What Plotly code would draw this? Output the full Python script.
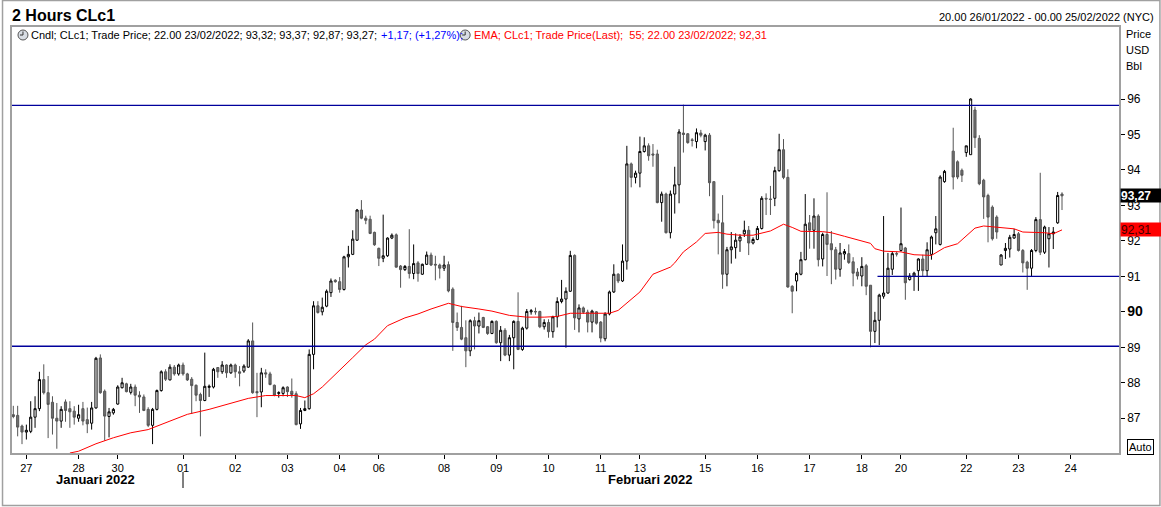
import plotly.graph_objects as go

# 2 hour bars of CLc1, one value per bar (bar 215 = Presidents' Day halt, no bar)
missing_bars = [215]
bar_no = [i for i in range(242) if i not in missing_bars]

opens = [
    87.10, 87.08, 86.78, 86.61, 86.63, 87.03, 87.27, 88.09, 87.72, 87.45,
    87.00, 86.92, 87.46, 87.27, 87.20, 87.00, 87.27, 86.96, 86.86, 87.29,
    88.70, 87.76, 87.05, 87.15, 87.40, 87.86, 87.97, 87.73, 87.88, 87.65,
    87.60, 87.25, 86.80, 87.25, 87.78, 88.31, 88.08, 88.44, 88.25, 88.50,
    88.25, 88.10, 87.93, 87.67, 87.50, 87.87, 87.88, 88.43, 88.31, 88.50,
    88.28, 88.50, 88.31, 88.33, 88.44, 89.18, 87.75, 87.74, 88.28, 88.25,
    87.93, 87.70, 87.70, 87.88, 87.76, 87.69, 86.84, 87.22, 87.27, 88.80,
    90.17, 90.00, 90.16, 90.54, 90.89, 90.85, 90.63, 91.55, 91.62, 92.02,
    92.87, 92.64, 92.61, 92.24, 91.79, 91.51, 91.58, 92.08, 92.17, 91.29,
    91.19, 91.28, 91.08, 91.38, 91.06, 91.34, 91.60, 91.34, 91.32, 91.23,
    91.33, 90.64, 89.70, 89.56, 89.27, 88.90, 89.75, 89.60, 89.84, 89.58,
    89.39, 89.73, 89.13, 89.48, 88.78, 89.27, 89.73, 88.94, 89.54, 90.00,
    90.01, 90.01, 89.58, 89.70, 89.44, 89.86, 90.29, 90.36, 90.58, 91.59,
    89.80, 90.11, 89.99, 89.71, 90.00, 89.71, 89.24, 89.94, 90.56, 91.06,
    90.87, 91.43, 94.17, 93.79, 93.91, 94.52, 94.68, 94.45, 94.45, 93.08,
    93.32, 92.23, 93.32, 93.58, 95.04, 95.02, 94.85, 94.80, 95.04, 94.80,
    94.98, 93.67, 92.58, 92.51, 91.06, 91.75, 91.81, 92.00, 92.20, 92.30,
    91.94, 92.04, 92.35, 93.20, 93.18, 93.20, 93.98, 94.57, 93.79, 90.72,
    90.87, 91.06, 91.47, 92.51, 92.30, 92.70, 91.49, 92.18, 91.92, 91.75,
    91.20, 91.63, 91.64, 91.41, 91.12, 91.01, 91.30, 90.75, 89.45, 89.76,
    90.44, 90.53, 91.20, 91.64, 91.73, 91.80, 90.91, 91.01, 91.16, 91.49,
    91.16, 91.62, 92.23, 91.90, 93.67,
    94.53, 94.23, 93.99, 94.49, 94.43, 95.69, 94.89, 93.71, 93.28, 92.95,
    92.67, 91.32, 91.73, 91.77, 92.08, 92.20, 91.73, 91.40, 91.23, 91.73,
    92.60, 91.68, 92.06, 92.20, 92.51, 93.32,
]
highs = [
    87.35, 87.35, 86.82, 86.82, 87.48, 87.62, 88.31, 88.52, 88.19, 87.62,
    87.43, 87.34, 87.53, 87.48, 87.34, 87.38, 87.46, 87.30, 87.46, 88.73,
    88.80, 87.81, 87.29, 87.29, 87.93, 88.14, 88.00, 87.97, 87.95, 87.76,
    87.67, 87.31, 87.29, 87.81, 88.35, 88.38, 88.52, 88.50, 88.54, 88.57,
    88.28, 88.16, 87.95, 87.72, 88.85, 87.95, 88.42, 88.44, 88.61, 88.52,
    88.54, 88.54, 88.47, 88.52, 89.23, 89.70, 88.28, 88.42, 88.38, 88.31,
    87.95, 87.76, 87.90, 87.90, 88.12, 87.76, 87.29, 87.50, 88.94, 90.30,
    90.30, 90.40, 90.63, 90.94, 90.92, 90.98, 91.58, 91.86, 92.30, 92.90,
    93.15, 92.71, 92.71, 92.26, 91.81, 92.74, 92.10, 92.21, 92.21, 91.32,
    91.32, 92.33, 91.90, 91.43, 91.36, 91.70, 91.67, 91.58, 91.36, 91.58,
    91.42, 90.69, 89.98, 90.17, 89.76, 89.79, 89.86, 89.98, 89.86, 89.60,
    89.76, 89.76, 89.60, 89.54, 89.35, 89.76, 90.55, 89.58, 90.08, 90.08,
    90.12, 90.03, 89.79, 89.79, 89.89, 90.41, 90.90, 90.69, 91.72, 91.62,
    90.21, 90.15, 90.06, 90.06, 90.02, 89.74, 89.99, 90.60, 91.34, 91.09,
    91.90, 94.68, 94.21, 93.98, 94.94, 94.92, 94.75, 94.73, 94.57, 93.39,
    93.36, 93.42, 94.09, 95.15, 95.84, 95.04, 94.90, 95.17, 95.13, 95.02,
    95.04, 93.67, 92.77, 93.29, 91.83, 92.25, 92.21, 92.19, 92.57, 92.42,
    92.10, 92.42, 93.26, 93.34, 93.55, 94.09, 95.02, 94.87, 94.02, 90.75,
    91.12, 91.69, 93.32, 92.73, 93.20, 92.75, 92.23, 93.37, 92.28, 91.83,
    91.94, 91.77, 91.90, 91.54, 91.23, 91.54, 91.35, 90.75, 90.00, 90.51,
    92.70, 91.66, 91.70, 91.70, 92.94, 91.83, 91.09, 91.13, 91.51, 91.61,
    91.96, 92.15, 92.70, 93.85, 94.00,
    95.19, 94.27, 94.04, 94.68, 96.02, 95.78, 94.98, 93.75, 93.33, 93.00,
    92.72, 91.63, 91.94, 92.17, 92.34, 92.25, 91.77, 91.44, 91.77, 92.67,
    93.92, 92.43, 92.39, 92.39, 93.38, 93.37,
]
lows = [
    87.00, 86.49, 86.27, 86.40, 86.58, 86.73, 87.20, 87.67, 86.44, 86.54,
    86.14, 86.73, 86.90, 86.73, 86.82, 86.90, 86.80, 86.58, 86.68, 87.27,
    87.69, 86.37, 86.46, 87.10, 87.38, 87.84, 87.73, 87.67, 87.34, 87.15,
    87.20, 86.75, 86.27, 87.22, 87.75, 88.05, 88.07, 88.20, 88.20, 88.20,
    88.05, 87.12, 87.48, 86.49, 87.48, 87.60, 87.84, 88.14, 88.25, 88.14,
    88.25, 88.14, 87.90, 88.28, 88.42, 87.69, 87.03, 87.31, 88.14, 87.93,
    87.62, 87.58, 87.62, 87.60, 87.58, 86.80, 86.70, 87.20, 87.24, 88.38,
    89.95, 89.90, 90.13, 90.42, 90.82, 90.54, 90.60, 91.25, 91.60, 92.00,
    92.61, 92.47, 92.19, 91.86, 91.29, 91.40, 91.55, 92.05, 91.25, 90.68,
    91.15, 90.94, 90.92, 90.85, 91.04, 91.32, 91.29, 90.89, 90.94, 91.15,
    90.55, 88.90, 89.46, 89.20, 88.44, 88.75, 88.94, 89.39, 89.54, 89.35,
    89.37, 89.10, 88.61, 88.75, 88.61, 88.38, 88.92, 88.90, 89.50, 89.92,
    89.92, 89.54, 89.50, 89.27, 89.27, 89.56, 90.24, 88.99, 90.56, 89.49,
    89.42, 89.94, 89.42, 89.42, 89.64, 89.14, 89.17, 89.90, 90.53, 90.81,
    90.84, 91.19, 93.51, 93.62, 93.51, 94.49, 94.26, 94.09, 93.06, 92.54,
    92.21, 92.07, 92.77, 93.06, 94.49, 94.74, 94.66, 94.61, 94.92, 94.55,
    93.26, 92.35, 91.62, 90.65, 90.72, 91.36, 91.50, 91.69, 92.11, 91.60,
    91.90, 92.02, 92.32, 92.73, 92.73, 92.98, 93.95, 93.74, 90.68, 89.96,
    90.58, 91.03, 91.45, 91.78, 91.78, 91.28, 91.28, 91.01, 90.78, 90.91,
    90.99, 91.47, 91.35, 90.72, 90.91, 90.72, 90.47, 89.00, 89.12, 89.06,
    90.37, 90.51, 91.04, 91.56, 91.70, 90.34, 90.88, 90.59, 90.59, 90.99,
    90.99, 91.47, 91.90, 91.87, 93.64,
    93.45, 93.74, 93.66, 94.37, 94.43, 94.62, 93.57, 92.62, 91.96, 92.01,
    92.06, 91.32, 91.49, 91.53, 92.06, 91.70, 91.11, 90.62, 90.99, 91.68,
    91.60, 91.63, 91.25, 91.77, 92.48, 92.87,
]
closes = [
    87.05, 86.75, 86.61, 86.66, 87.03, 87.27, 88.09, 87.72, 87.39, 87.00,
    86.92, 87.25, 87.22, 87.18, 87.03, 87.10, 86.92, 86.84, 87.29, 88.69,
    87.72, 87.06, 87.18, 87.25, 87.88, 88.00, 87.75, 87.88, 87.65, 87.60,
    87.22, 86.80, 87.25, 87.78, 88.31, 88.10, 88.44, 88.25, 88.50, 88.25,
    88.08, 87.92, 87.65, 87.50, 87.90, 87.90, 88.38, 88.31, 88.50, 88.28,
    88.50, 88.31, 88.27, 88.47, 89.18, 87.72, 87.72, 88.28, 88.25, 87.95,
    87.65, 87.72, 87.86, 87.75, 87.67, 86.82, 87.22, 87.27, 88.80, 90.17,
    89.98, 90.13, 90.58, 90.87, 90.85, 90.63, 91.55, 91.62, 92.05, 92.87,
    92.64, 92.58, 92.21, 91.89, 91.51, 91.58, 92.08, 92.16, 91.26, 91.19,
    91.28, 91.08, 91.36, 91.08, 91.34, 91.60, 91.32, 91.32, 91.23, 91.32,
    90.59, 89.70, 89.56, 89.23, 88.90, 89.75, 89.60, 89.75, 89.56, 89.39,
    89.73, 89.13, 89.48, 88.78, 89.27, 89.73, 88.94, 89.54, 90.01, 90.03,
    90.00, 89.58, 89.70, 89.44, 89.86, 90.29, 90.36, 90.58, 91.59, 89.83,
    90.11, 89.99, 89.71, 90.02, 89.68, 89.26, 89.94, 90.56, 91.06, 90.87,
    91.43, 94.17, 93.79, 93.91, 94.52, 94.68, 94.40, 94.42, 93.08, 93.32,
    92.23, 93.32, 93.58, 95.07, 95.00, 94.77, 94.83, 95.05, 94.98, 94.98,
    93.64, 92.57, 92.51, 91.06, 91.75, 91.83, 92.02, 92.11, 92.30, 91.94,
    92.04, 92.35, 93.20, 93.18, 93.17, 93.98, 94.57, 93.79, 90.70, 90.58,
    91.08, 91.47, 92.47, 92.30, 92.70, 91.47, 92.18, 91.90, 91.75, 91.20,
    91.66, 91.70, 91.39, 91.09, 91.01, 91.28, 90.72, 89.45, 89.76, 90.47,
    90.53, 91.23, 91.64, 91.63, 91.92, 90.82, 91.01, 91.09, 91.49, 91.16,
    91.75, 92.11, 92.34, 93.80, 93.96,
    93.80, 93.80, 93.85, 94.68, 96.00, 94.91, 93.61, 93.24, 92.67, 92.06,
    92.25, 91.60, 91.79, 92.10, 92.18, 91.73, 91.38, 91.23, 91.73, 92.60,
    91.68, 92.39, 92.20, 92.25, 93.28, 93.27,
]

ema_bar = [13, 15, 19, 23, 27, 31, 36, 40, 45, 49, 54, 58, 65, 67, 69, 71, 75, 78,
           81, 83, 86, 90, 93, 96, 100, 103, 107, 110, 114, 118, 122, 125, 128, 137,
           139, 141, 144, 147, 151, 152, 154, 157, 159, 162, 164, 167, 170, 174, 177,
           179, 181, 186, 188, 191, 194, 197, 198, 200, 204, 207, 211, 213, 214, 217,
           219, 221, 223, 226, 230, 232, 237, 239, 241]
ema_val = [86.02, 86.07, 86.28, 86.45, 86.59, 86.68, 86.92, 87.11, 87.25, 87.39, 87.56,
           87.64, 87.64, 87.58, 87.69, 87.88, 88.34, 88.71, 89.07, 89.23, 89.61, 89.83,
           89.94, 90.08, 90.24, 90.15, 90.08, 90.02, 89.90, 89.85, 89.85, 89.87, 89.96,
           89.96, 90.04, 90.24, 90.56, 91.06, 91.26, 91.38, 91.69, 91.97, 92.21, 92.24,
           92.19, 92.16, 92.16, 92.28, 92.47, 92.38, 92.27, 92.26, 92.23, 92.13, 92.04,
           91.93, 91.78, 91.71, 91.69, 91.61, 91.59, 91.74, 91.81, 91.92, 92.13, 92.36,
           92.42, 92.39, 92.34, 92.25, 92.23, 92.20, 92.31]

# horizontal support / resistance lines (level, first bar or None = full width)
line_levels = [95.82, 89.03, 91.00]
line_start = [None, None, 198.6]

day_ticks = [3, 15, 24, 39, 51, 63, 75, 84, 99, 111, 123, 135, 144, 159, 171, 183,
             195, 204, 219, 231, 243]
day_labels = ["27", "28", "30", "01", "02", "03", "04", "06", "08", "09", "10", "11",
              "13", "15", "16", "17", "18", "20", "22", "23", "24"]
month_labels = ["Januari 2022", "Februari 2022"]
month_pos = [19, 146.5]
month_break = 39

price_ticks = [87, 88, 89, 90, 91, 92, 93, 94, 95, 96]
last_close = 93.27
last_ema = 92.31

FONT = "Liberation Sans"
NAVY = "#00009c"

# pixel -> paper helpers (plot area is 10..1119 x 27..453)
def px(x):
    return (x - 10) / 1109

def py(y):
    return (453 - y) / 426


fig = go.Figure()

fig.add_trace(go.Candlestick(
    x=bar_no, open=opens, high=highs, low=lows, close=closes,
    increasing=dict(line=dict(color="black", width=1), fillcolor="white"),
    decreasing=dict(line=dict(color="#555555", width=1), fillcolor="#707070"),
    whiskerwidth=0, hoverinfo="skip", showlegend=False,
))

fig.add_trace(go.Scatter(
    x=ema_bar, y=ema_val, mode="lines",
    line=dict(color="#ff0000", width=1), hoverinfo="skip", showlegend=False,
))

shapes = []
for lvl, start in zip(line_levels, line_start):
    if start is None:
        shapes.append(dict(type="line", xref="paper", yref="y", x0=0, x1=1, y0=lvl, y1=lvl,
                           line=dict(color=NAVY, width=1.3)))
    else:
        shapes.append(dict(type="line", xref="x", yref="y", x0=start, x1=254.1, y0=lvl, y1=lvl,
                           line=dict(color=NAVY, width=1.3)))

# month separator under the axis
shapes.append(dict(type="line", xref="x", yref="paper", x0=month_break, x1=month_break,
                   y0=py(472), y1=py(488), line=dict(color="black", width=1)))

# small clock icons in the legend row
for cx in [21, 464]:
    shapes.append(dict(type="circle", xref="paper", yref="paper",
                       x0=px(cx - 5), x1=px(cx + 5), y0=py(40), y1=py(30),
                       line=dict(color="#555555", width=1), fillcolor="#d8dde4"))
    shapes.append(dict(type="line", xref="paper", yref="paper", x0=px(cx), x1=px(cx),
                       y0=py(35), y1=py(31.5), line=dict(color="#333333", width=1)))
    shapes.append(dict(type="line", xref="paper", yref="paper", x0=px(cx - 3), x1=px(cx),
                       y0=py(35), y1=py(35), line=dict(color="#333333", width=1)))

# outer frame of the picture
shapes.append(dict(type="rect", xref="paper", yref="paper", x0=px(0.5), x1=px(1160),
                   y0=py(505.5), y1=py(0.5), line=dict(color="#a0a0a0", width=1.5)))

annotations = [
    dict(text="<b>2 Hours CLc1</b>", x=px(8), y=py(15), xanchor="left", yanchor="middle",
         font=dict(family=FONT, size=16, color="black")),
    dict(text="20.00 26/01/2022 - 00.00 25/02/2022 (NYC)", x=px(1156), y=py(17),
         xanchor="right", yanchor="middle", font=dict(family=FONT, size=11, color="black")),
    dict(text="Cndl; CLc1; Trade Price; 22.00 23/02/2022; 93,32; 93,37; 92,87; 93,27;",
         x=px(27), y=py(35), xanchor="left", yanchor="middle",
         font=dict(family=FONT, size=11, color="black")),
    dict(text="+1,17; (+1,27%);", x=px(378), y=py(35), xanchor="left", yanchor="middle",
         font=dict(family=FONT, size=11, color="#0000ff")),
    dict(text="EMA; CLc1; Trade Price(Last);  55; 22.00 23/02/2022; 92,31",
         x=px(471), y=py(35), xanchor="left", yanchor="middle",
         font=dict(family=FONT, size=11, color="#ff0000")),
    dict(text="Price", x=px(1124), y=py(34), xanchor="left", yanchor="middle",
         font=dict(family=FONT, size=11, color="black")),
    dict(text="USD", x=px(1124), y=py(50), xanchor="left", yanchor="middle",
         font=dict(family=FONT, size=11, color="black")),
    dict(text="Bbl", x=px(1124), y=py(66), xanchor="left", yanchor="middle",
         font=dict(family=FONT, size=11, color="black")),
    dict(text="<b>%s</b>" % f"{last_close:.2f}".replace(".", ","), xref="paper", yref="y",
         x=px(1120), y=last_close, xanchor="left", yanchor="middle", width=41, height=13,
         align="left", bgcolor="black", borderpad=0,
         font=dict(family=FONT, size=12, color="white")),
    dict(text=f"{last_ema:.2f}".replace(".", ","), xref="paper", yref="y",
         x=px(1120), y=last_ema, xanchor="left", yanchor="middle", width=41, height=13,
         align="left", bgcolor="#ff0000", borderpad=0,
         font=dict(family=FONT, size=12, color="#400000")),
    dict(text="Auto", x=px(1127), y=py(446.5), xanchor="left", yanchor="middle",
         bordercolor="black", borderwidth=1, borderpad=1, bgcolor="white",
         font=dict(family=FONT, size=11, color="black")),
]
for lab, pos in zip(month_labels, month_pos):
    annotations.append(dict(text="<b>%s</b>" % lab, xref="x", yref="paper", x=pos, y=py(479),
                            xanchor="center", yanchor="middle",
                            font=dict(family=FONT, size=13, color="black")))
for a in annotations:
    a.setdefault("xref", "paper")
    a.setdefault("yref", "paper")
    a.setdefault("showarrow", False)

price_text = ['<span style="font-size:14px"><b>90</b></span>' if v == 90 else str(v)
              for v in price_ticks]

fig.update_layout(
    width=1161, height=507,
    margin=dict(l=10, r=42, t=27, b=54),
    paper_bgcolor="white", plot_bgcolor="white",
    font=dict(family=FONT, size=11, color="black"),
    showlegend=False, hovermode=False,
    shapes=shapes, annotations=annotations,
)
fig.update_xaxes(
    range=[-0.3, 254.1], tickmode="array", tickvals=day_ticks, ticktext=day_labels,
    ticks="outside", ticklen=4, tickcolor="black", showgrid=False, zeroline=False,
    showline=True, linecolor="#a0a0a0", linewidth=1.5, mirror=True,
    rangeslider=dict(visible=False), tickfont=dict(family=FONT, size=11, color="black"),
)
fig.update_yaxes(
    range=[86.02, 98.03], side="right", tickmode="array", tickvals=price_ticks,
    ticktext=price_text, ticks="outside", ticklen=4, tickcolor="black", showgrid=False,
    zeroline=False, showline=True, linecolor="#a0a0a0", linewidth=1.5, mirror=True,
    tickfont=dict(family=FONT, size=12, color="black"),
)

fig.write_html("out.html", config={"displayModeBar": False},
               post_script="document.body.style.margin='0';")
